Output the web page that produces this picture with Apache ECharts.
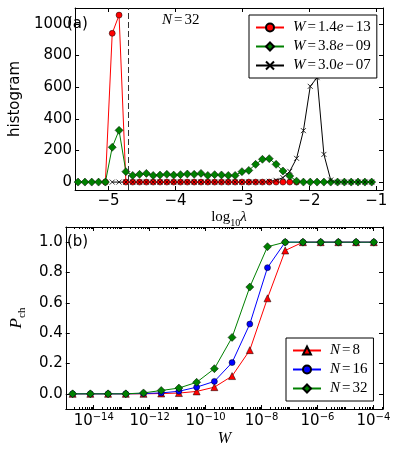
<!DOCTYPE html>
<html><head><meta charset="utf-8">
<script src="https://cdn.jsdelivr.net/npm/echarts@6/dist/echarts.min.js"></script>
<style>html,body{margin:0;padding:0;background:#fff}#c{width:399px;height:455px}</style>
</head><body><div id="c"></div>
<script>
// ---------- panel (a): histogram of log10(lambda), N=32 ----------
const logLambda = [-5.455,-5.353,-5.251,-5.149,-5.047,-4.945,-4.843,-4.741,-4.639,-4.537,
  -4.435,-4.333,-4.231,-4.129,-4.027,-3.925,-3.823,-3.721,-3.619,-3.517,
  -3.415,-3.313,-3.211,-3.109,-3.007,-2.905,-2.803,-2.701,-2.599,-2.497,
  -2.395,-2.293,-2.191,-2.089,-1.987,-1.885,-1.783,-1.681,-1.579,-1.477,
  -1.375,-1.273,-1.171,-1.069];
const histW1 = [null,null,null,null,0,940,1055,0,0,0, 0,0,0,0,0,0,0,0,0,0, 0,0,0,0,0,0,0,0,0,0, 0,0,0,null,null,null,null,null,null,null, null,null,null,null];
const histW2 = [0,0,0,0,0,220,327,66,42,49, 55,42,44,49,44,47,51,49,55,42, 47,45,42,42,66,74,112,144,148,112, 70,38,6,0,0,0,0,0,0,0, 0,0,0,0];
const histW3 = [null,null,null,null,null,0,0,0,0,0, 0,0,0,0,0,0,0,0,0,0, 0,0,0,0,0,0,0,0,5,11, 28,68,150,325,605,660,175,13,0,0, 0,0,0,0];
const histNames = ['W=1.4e-13','W=3.8e-09','W=3.0e-07'];
const dashedLogLambda = -4.70;
const lambdaTicks = [-5,-4,-3,-2,-1];
const histTicks = [0,200,400,600,800,1000];

// ---------- panel (b): P_ch vs W ----------
const Wvalues = [1.76e-15,7.58e-15,3.26e-14,1.40e-13,6.02e-13,2.59e-12,1.11e-11,4.78e-11,2.06e-10,
  8.84e-10,3.80e-9,1.63e-8,7.02e-8,3.02e-7,1.30e-6,5.57e-6,2.40e-5,1.03e-4];
const P_N8  = [0,0,0,0,0,0.002,0.005,0.016,0.044,0.117,0.288,0.630,0.945,1,1,1,1,1];
const P_N16 = [0,0,0,0,0.002,0.006,0.017,0.044,0.082,0.206,0.460,0.832,1,1,1,1,1,1];
const P_N32 = [0,0,0,0,0.006,0.022,0.038,0.076,0.166,0.372,0.704,0.970,1,1,1,1,1,1];
const Nnames = ['N=8','N=16','N=32'];
const WlabelTicks = [1e-14,1e-12,1e-10,1e-8,1e-6,1e-4];
const PTicks = [0,0.2,0.4,0.6,0.8,1.0];

const SANS = 'DejaVu Sans';
const SERIF = 'Liberation Serif';

function zip(xs, ys){ const out=[]; for(let i=0;i<xs.length;i++){ if(ys[i]!==null) out.push([xs[i], ys[i]]); } return out; }

const minorW = [];
for (let e=-15; e<=-4; e++) for (let m=1; m<=9; m++) {
  const v = m*Math.pow(10,e);
  if (v < 1e-15*0.999 || v > 2.2e-4) continue;
  if (m===1 && e%2===0) continue;
  minorW.push(v);
}

const axLine = {show:true, onZero:false, lineStyle:{color:'#000', width:1}};
const axLineHidden = {show:false, onZero:false};
function tick(vals, len){ return {show:true, inside:true, length:len, customValues:vals, lineStyle:{color:'#000', width:1}}; }
const noLabel = {show:false};

function fmtLegend(name){
  const m = name.match(/^(\w)=(.*)$/);
  let rest = m[2];
  if (rest.indexOf('e-') >= 0) {
    const p = rest.split('e-');
    return '{i|' + m[1] + '}{e|=}{r|' + p[0] + '}{i|e}{e|\u2212}{r|' + p[1] + '}';
  }
  return '{i|' + m[1] + '}{e|=}{r|' + rest + '}';
}
const legendRich = {
  i:{fontFamily:SERIF, fontStyle:'italic', fontSize:15, color:'#000'},
  r:{fontFamily:SERIF, fontSize:15, color:'#000'},
  e:{fontFamily:SERIF, fontSize:15, color:'#000', padding:[0,2,0,2]}
};

const mk = (color, border) => ({color:color, borderColor:border, borderWidth:0.5});
const XPATH = 'path://M0,0L10,10M0,10L10,0';

const option = {
  animation:false,
  backgroundColor:'#fff',
  grid:[
    {left:64, top:8, width:319, height:182},
    {left:64, top:227, width:319, height:182}
  ],
  xAxis:[
    {gridIndex:0, type:'value', min:-5.5, max:-0.9, position:'bottom', axisLine:axLine,
     axisTick:tick(lambdaTicks,4), splitLine:{show:false},
     axisLabel:{customValues:lambdaTicks, margin:4, fontFamily:SANS, fontSize:15, color:'#000',
       formatter:v => (v<0?'\u2212':'') + Math.abs(v)},
     name:'{a|log}{s|10}{b|\u03bb}', nameLocation:'middle', nameGap:12,
     nameTextStyle:{rich:{
       a:{fontFamily:SERIF, fontSize:15, color:'#000', lineHeight:16, verticalAlign:'top'},
       s:{fontFamily:SERIF, fontSize:10, color:'#000', lineHeight:10, padding:[8,0,0,0], verticalAlign:'top'},
       b:{fontFamily:SERIF, fontStyle:'italic', fontSize:15, color:'#000', lineHeight:16, verticalAlign:'top'}
     }}},
    {gridIndex:0, type:'value', min:-5.5, max:-0.9, position:'top', axisLine:axLine,
     axisTick:tick(lambdaTicks,4), axisLabel:noLabel, splitLine:{show:false}},
    {gridIndex:1, type:'log', logBase:10, min:1e-15, max:2.2e-4, position:'bottom', axisLine:axLine,
     axisTick:tick(WlabelTicks,4), splitLine:{show:false}, minorTick:{show:false},
     axisLabel:{customValues:WlabelTicks, margin:3, color:'#000',
       formatter:v => '{b|10}{s|\u2212' + Math.round(-Math.log10(v)) + '}',
       rich:{
         b:{fontFamily:SANS, fontSize:15, color:'#000', lineHeight:17, verticalAlign:'bottom'},
         s:{fontFamily:SANS, fontSize:10, color:'#000', lineHeight:10, padding:[0,0,8,0], verticalAlign:'top'}
       }},
     name:'W', nameLocation:'middle', nameGap:21,
     nameTextStyle:{fontFamily:SERIF, fontStyle:'italic', fontSize:16, color:'#000'}},
    {gridIndex:1, type:'log', logBase:10, min:1e-15, max:2.2e-4, position:'top', axisLine:axLine,
     axisTick:tick(WlabelTicks,4), axisLabel:noLabel, splitLine:{show:false}},
    {gridIndex:1, type:'log', logBase:10, min:1e-15, max:2.2e-4, position:'bottom', axisLine:axLineHidden,
     axisTick:tick(minorW,2), axisLabel:noLabel, splitLine:{show:false}},
    {gridIndex:1, type:'log', logBase:10, min:1e-15, max:2.2e-4, position:'top', axisLine:axLineHidden,
     axisTick:tick(minorW,2), axisLabel:noLabel, splitLine:{show:false}}
  ],
  yAxis:[
    {gridIndex:0, type:'value', min:-50, max:1100, position:'left', axisLine:axLine,
     axisTick:tick(histTicks,4), splitLine:{show:false},
     axisLabel:{customValues:histTicks, margin:3, fontFamily:SANS, fontSize:15, color:'#000',
       formatter:v => String(v)},
     name:'histogram', nameLocation:'middle', nameGap:42,
     nameTextStyle:{fontFamily:SANS, fontSize:15, color:'#000'}},
    {gridIndex:0, type:'value', min:-50, max:1100, position:'right', axisLine:axLine,
     axisTick:tick(histTicks,4), axisLabel:noLabel, splitLine:{show:false}},
    {gridIndex:1, type:'value', min:-0.1, max:1.1, position:'left', axisLine:axLine,
     axisTick:tick(PTicks,4), splitLine:{show:false},
     axisLabel:{customValues:PTicks, margin:3, fontFamily:SANS, fontSize:15, color:'#000',
       formatter:v => v.toFixed(1)},
     name:'{p|P}{s|ch}', nameLocation:'middle', nameGap:25,
     nameTextStyle:{rich:{
       p:{fontFamily:SERIF, fontStyle:'italic', fontSize:17, color:'#000', lineHeight:18, verticalAlign:'top'},
       s:{fontFamily:SERIF, fontSize:11, color:'#000', lineHeight:11, padding:[9,0,0,0], verticalAlign:'top'}
     }}},
    {gridIndex:1, type:'value', min:-0.1, max:1.1, position:'right', axisLine:axLine,
     axisTick:tick(PTicks,4), axisLabel:noLabel, splitLine:{show:false}}
  ],
  legend:[
    {data:histNames, left:249, top:15, orient:'vertical', itemGap:4, itemWidth:28, itemHeight:10,
     padding:[5,6,5,6], borderColor:'#000', borderWidth:1, borderRadius:0, backgroundColor:'#fff',
     formatter:fmtLegend, textStyle:{rich:legendRich, padding:[0,0,0,4]}},
    {data:Nnames, left:286, top:338, orient:'vertical', itemGap:4, itemWidth:28, itemHeight:10,
     padding:[5,6,5,6], borderColor:'#000', borderWidth:1, borderRadius:0, backgroundColor:'#fff',
     formatter:fmtLegend, textStyle:{rich:legendRich, padding:[0,0,0,4]}}
  ],
  graphic:[
    {type:'text', left:67, top:17, style:{text:'(a)', font:'15px "DejaVu Sans"', fill:'#000'}},
    {type:'text', left:67, top:235, style:{text:'(b)', font:'15px "DejaVu Sans"', fill:'#000'}},
    {type:'text', left:162, top:13, style:{text:'{i|N}{e|=}{r|32}', rich:legendRich}}
  ],
  series:[
    {name:histNames[0], type:'line', xAxisIndex:0, yAxisIndex:0, data:zip(logLambda, histW1),
     symbol:'circle', symbolSize:6, lineStyle:{color:'#ff0000', width:1}, itemStyle:mk('#ff0000','#000'),
     markLine:{silent:true, symbol:'none', label:{show:false},
       lineStyle:{type:[6,3], color:'#333', width:1},
       data:[{xAxis:dashedLogLambda}]}},
    {name:histNames[1], type:'line', xAxisIndex:0, yAxisIndex:0, data:zip(logLambda, histW2),
     symbol:'diamond', symbolSize:8, lineStyle:{color:'#008000', width:1}, itemStyle:mk('#008000','#000')},
    {name:histNames[2], type:'line', xAxisIndex:0, yAxisIndex:0, data:zip(logLambda, histW3),
     symbol:XPATH, symbolSize:5, lineStyle:{color:'#000', width:1},
     itemStyle:{color:'#000', borderColor:'#000', borderWidth:0.8}},
    {name:Nnames[0], type:'line', xAxisIndex:2, yAxisIndex:2, data:zip(Wvalues, P_N8),
     symbol:'triangle', symbolSize:7, lineStyle:{color:'#ff0000', width:1}, itemStyle:mk('#ff0000','#000')},
    {name:Nnames[1], type:'line', xAxisIndex:2, yAxisIndex:2, data:zip(Wvalues, P_N16),
     symbol:'circle', symbolSize:6, lineStyle:{color:'#0000ff', width:1}, itemStyle:mk('#0000ff','#000')},
    {name:Nnames[2], type:'line', xAxisIndex:2, yAxisIndex:2, data:zip(Wvalues, P_N32),
     symbol:'diamond', symbolSize:8, lineStyle:{color:'#008000', width:1}, itemStyle:mk('#008000','#000')}
  ]
};
const chart = echarts.init(document.getElementById('c'), null, {renderer:'canvas'});
chart.setOption(option);
</script>
</body></html>
